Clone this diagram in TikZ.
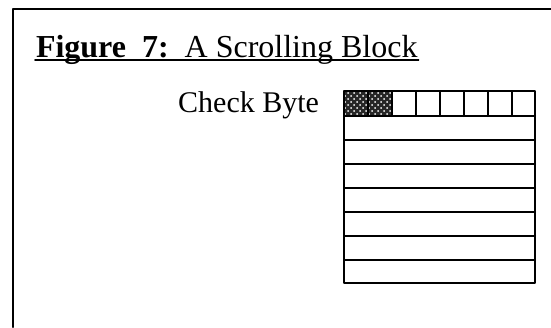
\documentclass[tikz,border=0pt]{standalone}
\usepackage{fontspec}
\setmainfont{Liberation Serif}
\usetikzlibrary{patterns}
\tikzset{
  label text/.style={inner sep=0pt,font=\fontsize{15}{18}\selectfont},
  title text/.style={inner sep=0pt,font=\fontsize{16}{19}\selectfont},
  check cell/.style={pattern=crosshatch dots,pattern color=white}
}
\begin{document}
\begin{tikzpicture}[line cap=round,line join=round,x=0.5pt,y=-0.5pt,line width=1pt]
		\useasboundingbox (0,0) rectangle (551,327);
		\draw[line width=1.2pt] (13,327)--(13,9)--(551,9);
		\node[title text,anchor=base west] (title) at (35,57) {\textbf{Figure\ \ 7:}\ \ A Scrolling Block};
		\draw[line width=0.8pt] ([yshift=-1.5pt]title.base west)--([yshift=-1.5pt]title.base east);
		\node[label text,anchor=base east] (check) at (320,112) {Check Byte};
		\fill[black!85] (344,91) rectangle (392,116);
		\fill[check cell] (344,91) rectangle (392,116);
		\draw (344,91) rectangle (535,283);
		\foreach \y in {116,140,164,188,212,236,260}
			\draw (344,\y)--(535,\y);
		\foreach \x in {368,392,...,512}
			\draw (\x,91)--(\x,116);
\end{tikzpicture}
\end{document}
